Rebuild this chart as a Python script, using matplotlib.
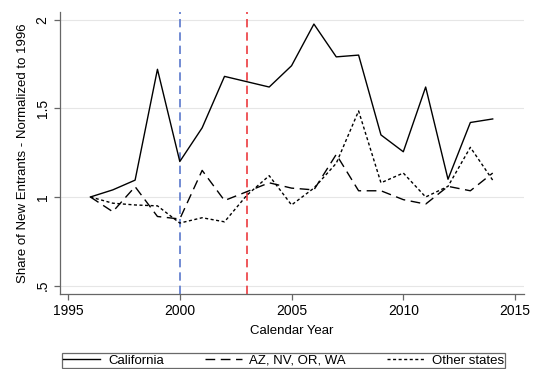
import matplotlib
matplotlib.use("Agg")
import matplotlib.pyplot as plt

plt.rcParams['font.family'] = ['Liberation Sans', 'DejaVu Sans']

# Data
years = list(range(1996, 2015))
california = [1.00, 1.04, 1.095, 1.72, 1.20, 1.39, 1.68, 1.65, 1.62, 1.74,
              1.975, 1.79, 1.80, 1.35, 1.255, 1.62, 1.10, 1.42, 1.44]
az_nv_or_wa = [1.00, 0.917, 1.058, 0.89, 0.876, 1.15, 0.98, 1.03, 1.08, 1.05,
               1.04, 1.24, 1.035, 1.035, 0.985, 0.96, 1.06, 1.035, 1.135]
other_states = [1.00, 0.965, 0.955, 0.95, 0.853, 0.883, 0.86, 1.01, 1.12, 0.955,
                1.05, 1.19, 1.485, 1.08, 1.135, 1.00, 1.06, 1.28, 1.095]

event_years = [2000, 2003]
event_colors = ["#5a78cc", "#ec3b3f"]

fig = plt.figure(figsize=(5.38, 3.69), dpi=100)
ax = fig.add_axes([60/538, 1 - 294/369, 464/538, 282/369])

for yv in [0.5, 1.0, 1.5, 2.0]:
    ax.axhline(yv, color="#e6e6e6", lw=0.8, zorder=0)

for ev, col in zip(event_years, event_colors):
    ax.axvline(ev, color=col, lw=1.2, dashes=(5, 3), zorder=1)

ax.plot(years, california, color="black", lw=1.0, label="California")
ax.plot(years, az_nv_or_wa, color="black", lw=1.0, dashes=(7, 4),
        label="AZ, NV, OR, WA")
ax.plot(years, other_states, color="black", lw=1.0, dashes=(2.2, 1.8),
        label="Other states")

ax.set_xlim(1994.64, 2015.4)
ax.set_ylim(0.453, 2.043)
ax.set_xticks([1995, 2000, 2005, 2010, 2015])
ax.set_yticks([0.5, 1, 1.5, 2])
ax.set_yticklabels([".5", "1", "1.5", "2"], rotation=90, va="center")

for s in ["top", "right"]:
    ax.spines[s].set_visible(False)
for s in ["left", "bottom"]:
    ax.spines[s].set_color("#666666")
    ax.spines[s].set_linewidth(0.9)
ax.tick_params(colors="#666666", labelcolor="black", labelsize=10, length=4, width=0.9)

ax.set_xlabel("Calendar Year", fontsize=9.5, labelpad=5)
ax.set_ylabel("Share of New Entrants - Normalized to 1996", fontsize=9.5, labelpad=5)

handles, labels = ax.get_legend_handles_labels()
leg = fig.legend(handles, labels, ncol=3, loc="upper left",
                 bbox_to_anchor=(62/538, 1 - 353/369, 443/538, 0),
                 mode="expand", fontsize=9.5, frameon=True, fancybox=False,
                 handlelength=2.8, borderaxespad=0, borderpad=0.1,
                 columnspacing=1.0, handletextpad=0.6)
leg.get_frame().set_edgecolor("#444444")
leg.get_frame().set_linewidth(0.9)

fig.savefig("out.png", dpi=100)
